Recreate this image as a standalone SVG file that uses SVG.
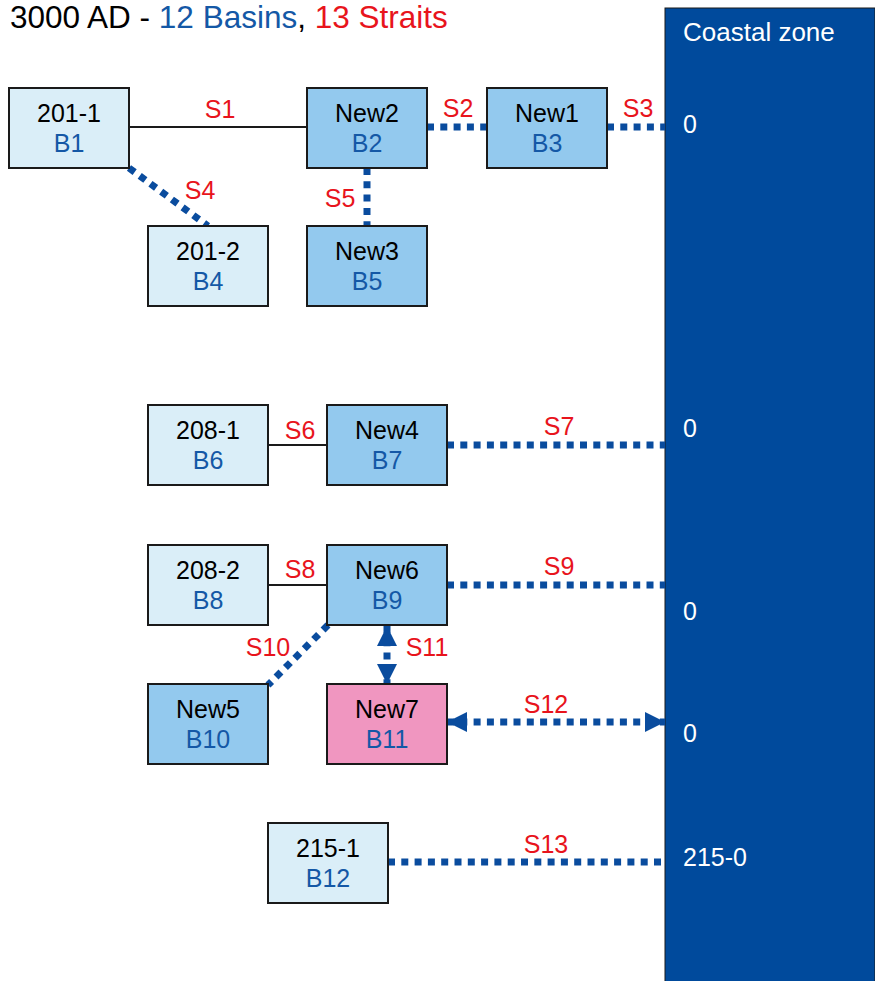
<svg xmlns="http://www.w3.org/2000/svg" width="875" height="981" viewBox="0 0 875 981">
<defs>
<style>
text{font-family:"Liberation Sans",Arial,sans-serif}
.t{font-size:25px;text-anchor:middle;fill:#000}
.b{font-size:25px;text-anchor:middle;fill:#1458A6}
.s{font-size:25px;text-anchor:middle;fill:#E8141C}
.w{font-size:25px;fill:#fff}
.lt{fill:#DAEEF8;stroke:#1a1a1a;stroke-width:2}
.md{fill:#93C9EE;stroke:#1a1a1a;stroke-width:2}
.pk{fill:#F096C0;stroke:#1a1a1a;stroke-width:2}
.solid{stroke:#1a1a1a;stroke-width:2;fill:none}
.dot{stroke:#0A4C9E;stroke-width:7;stroke-dasharray:7 6.3;fill:none}
</style>
<marker id="ah" markerUnits="userSpaceOnUse" markerWidth="22" markerHeight="22" refX="20" refY="10" orient="auto-start-reverse" viewBox="0 0 22 22">
<path d="M0,0 L20,10 L0,20 Z" fill="#0A4C9E"/>
</marker>
</defs>
<rect width="875" height="981" fill="#fff"/>
<text x="10" y="28" style="font-size:31.5px"><tspan fill="#000">3000 AD - </tspan><tspan fill="#1458A6">12 Basins</tspan><tspan fill="#000">, </tspan><tspan fill="#E8141C">13 Straits</tspan></text>
<g id="coastal">
<rect x="665" y="8" width="210" height="980" fill="#004A9C" stroke="#1a1a1a" stroke-width="1"/>
<text class="w" x="683" y="41" style="font-size:26px">Coastal zone</text>
<text class="w" x="683" y="133">0</text>
<text class="w" x="683" y="437">0</text>
<text class="w" x="683" y="620">0</text>
<text class="w" x="683" y="742">0</text>
<text class="w" x="683" y="866">215-0</text>
</g>
<g id="connectors">
<line class="solid" x1="129" y1="127" x2="307" y2="127"/>
<text class="s" x="220" y="118">S1</text>
<line class="dot" x1="427" y1="127" x2="487" y2="127"/>
<text class="s" x="458" y="117">S2</text>
<line class="dot" x1="607" y1="127" x2="665" y2="127"/>
<text class="s" x="638" y="117">S3</text>
<line class="dot" x1="129" y1="168" x2="208" y2="226"/>
<text class="s" x="200" y="199">S4</text>
<line class="dot" x1="367" y1="168" x2="367" y2="226"/>
<text class="s" x="340" y="207">S5</text>
<line class="solid" x1="268" y1="445" x2="327" y2="445"/>
<text class="s" x="300" y="439">S6</text>
<line class="dot" x1="447" y1="445" x2="665" y2="445"/>
<text class="s" x="559" y="435">S7</text>
<line class="solid" x1="268" y1="585" x2="327" y2="585"/>
<text class="s" x="300" y="578">S8</text>
<line class="dot" x1="447" y1="585" x2="665" y2="585"/>
<text class="s" x="559" y="575">S9</text>
<line class="dot" x1="328" y1="625" x2="268" y2="685"/>
<text class="s" x="268" y="656">S10</text>
<line class="dot" x1="387" y1="626" x2="387" y2="684" marker-start="url(#ah)" marker-end="url(#ah)"/>
<text class="s" x="427" y="656">S11</text>
<line class="dot" x1="447" y1="722" x2="665" y2="722" marker-start="url(#ah)" marker-end="url(#ah)"/>
<text class="s" x="546" y="713">S12</text>
<line class="dot" x1="388" y1="862" x2="665" y2="862"/>
<text class="s" x="546" y="853">S13</text>
</g>
<g id="B1"><rect class="lt" x="9" y="88" width="120" height="80"/><text class="t" x="69" y="122">201-1</text><text class="b" x="69" y="152">B1</text></g>
<g id="B2"><rect class="md" x="307" y="88" width="120" height="80"/><text class="t" x="367" y="122">New2</text><text class="b" x="367" y="152">B2</text></g>
<g id="B3"><rect class="md" x="487" y="88" width="120" height="80"/><text class="t" x="547" y="122">New1</text><text class="b" x="547" y="152">B3</text></g>
<g id="B4"><rect class="lt" x="148" y="226" width="120" height="80"/><text class="t" x="208" y="260">201-2</text><text class="b" x="208" y="290">B4</text></g>
<g id="B5"><rect class="md" x="307" y="226" width="120" height="80"/><text class="t" x="367" y="260">New3</text><text class="b" x="367" y="290">B5</text></g>
<g id="B6"><rect class="lt" x="148" y="405" width="120" height="80"/><text class="t" x="208" y="439">208-1</text><text class="b" x="208" y="469">B6</text></g>
<g id="B7"><rect class="md" x="327" y="405" width="120" height="80"/><text class="t" x="387" y="439">New4</text><text class="b" x="387" y="469">B7</text></g>
<g id="B8"><rect class="lt" x="148" y="545" width="120" height="80"/><text class="t" x="208" y="579">208-2</text><text class="b" x="208" y="609">B8</text></g>
<g id="B9"><rect class="md" x="327" y="545" width="120" height="80"/><text class="t" x="387" y="579">New6</text><text class="b" x="387" y="609">B9</text></g>
<g id="B10"><rect class="md" x="148" y="684" width="120" height="80"/><text class="t" x="208" y="718">New5</text><text class="b" x="208" y="748">B10</text></g>
<g id="B11"><rect class="pk" x="327" y="684" width="120" height="80"/><text class="t" x="387" y="718">New7</text><text class="b" x="387" y="748">B11</text></g>
<g id="B12"><rect class="lt" x="268" y="823" width="120" height="80"/><text class="t" x="328" y="857">215-1</text><text class="b" x="328" y="887">B12</text></g>
</svg>
